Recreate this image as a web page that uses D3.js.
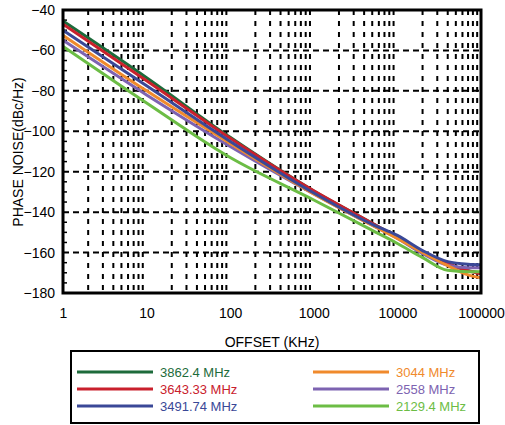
<!DOCTYPE html>
<html>
<head>
<meta charset="utf-8">
<script src="https://cdn.jsdelivr.net/npm/d3@7"></script>
<style>
  html, body { margin: 0; padding: 0; background: #fff; }
  svg { display: block; font-family: "Liberation Sans", Arial, sans-serif; }
</style>
</head>
<body>
<svg id="chart" width="505" height="425"></svg>
<script>
// offsets in kHz
const offsets = [1, 10, 100, 1000, 5000, 10000, 20000, 40000, 70000, 100000]
const names = ["3862.4 MHz", "3643.33 MHz", "3491.74 MHz", "3044 MHz", "2558 MHz", "2129.4 MHz"]
const colors = ["#1d6b3b", "#c9202c", "#3a4897", "#f08a2c", "#7d63b1", "#6cbd45"]
const s3862 = [-45.5, -73.5, -103, -129.5, -145.5, -152.5, -159.5, -165.5, -169, -170]
const s3643 = [-47, -75, -103.5, -129.5, -145.5, -152.5, -159.5, -165.5, -169, -170.5]
const s3491 = [-50, -77.5, -105, -130.5, -146, -151.5, -159, -164.5, -165.8, -166]
const s3044 = [-52.5, -80, -106, -131, -146.5, -153, -160, -166.5, -171, -172.5]
const s2558 = [-55, -82, -107.5, -131, -146.5, -153, -160.5, -166.3, -167.5, -167.5]
const s2129 = [-58, -86, -113, -134, -149, -155.5, -162.5, -168.8, -169.5, -169.5]
const seriesValues = [s3862, s3643, s3491, s3044, s2558, s2129]
const xTicks = [1, 10, 100, 1000, 10000, 100000]
const yTicks = [-180, -160, -140, -120, -100, -80, -60, -40]
const drawOrder = [0, 1, 4, 3, 2, 5]

const svg = d3.select("#chart")
const pLeft = 63, pRight = 481, pTop = 10, pBottom = 293

const x = d3.scaleLog().domain([1, 100000]).range([pLeft, pRight])
const y = d3.scaleLinear().domain([-180, -40]).range([pBottom, pTop])

// grid: vertical at every log minor, horizontal every 20
const vLines = []
for (let d = 1; d < 100000; d *= 10)
	for (let k = 2; k <= 9; k++) vLines.push(d * k)
svg.append("g").selectAll("line").data(vLines).join("line")
	.attr("x1", d => x(d)).attr("x2", d => x(d))
	.attr("y1", pTop).attr("y2", pBottom)
	.attr("stroke", "#000").attr("stroke-width", 2)
	.attr("stroke-dasharray", "5,6")
svg.append("g").selectAll("line").data(yTicks.slice(1, -1)).join("line")
	.attr("x1", pLeft).attr("x2", pRight)
	.attr("y1", d => y(d)).attr("y2", d => y(d))
	.attr("stroke", "#000").attr("stroke-width", 2)
	.attr("stroke-dasharray", "6,4")

// small inner ticks on the left every 5 dB
const minorY = d3.range(-175, -40, 5).filter(v => v % 20 !== 0)
svg.append("g").selectAll("line").data(minorY).join("line")
	.attr("x1", pLeft).attr("x2", pLeft + 4)
	.attr("y1", d => y(d)).attr("y2", d => y(d))
	.attr("stroke", "#000").attr("stroke-width", 1.5)

// curves
const line = d3.line()
	.x(d => x(d[0])).y(d => y(d[1]))
	.curve(d3.curveMonotoneX)
drawOrder.forEach(i => {
	svg.append("path")
		.datum(offsets.map((o, j) => [o, seriesValues[i][j]]))
		.attr("d", line)
		.attr("fill", "none")
		.attr("stroke", colors[i])
		.attr("stroke-width", 3)
})

// frame
svg.append("rect")
	.attr("x", pLeft).attr("y", pTop)
	.attr("width", pRight - pLeft).attr("height", pBottom - pTop)
	.attr("fill", "none").attr("stroke", "#000").attr("stroke-width", 3)

// axes labels
const xAxis = d3.axisBottom(x).tickValues(xTicks).tickFormat(d3.format("d")).tickSize(0).tickPadding(15)
svg.append("g").attr("transform", `translate(0,${pBottom})`).call(xAxis)
	.call(g => g.select(".domain").remove())
	.selectAll("text").attr("font-size", 14).attr("fill", "#000")
	.attr("font-family", "Liberation Sans, Arial, sans-serif")

const yAxis = d3.axisLeft(y).tickValues(yTicks).tickSize(0).tickPadding(8)
svg.append("g").attr("transform", `translate(${pLeft},0)`).call(yAxis)
	.call(g => g.select(".domain").remove())
	.selectAll("text").attr("font-size", 14).attr("fill", "#000")
	.attr("font-family", "Liberation Sans, Arial, sans-serif")

svg.append("text")
	.attr("x", 272).attr("y", 347)
	.attr("text-anchor", "middle").attr("font-size", 14)
	.text("OFFSET (KHz)")
svg.append("text")
	.attr("transform", "translate(23,152) rotate(-90)")
	.attr("text-anchor", "middle").attr("font-size", 14)
	.text("PHASE NOISE(dBc/Hz)")

// legend
svg.append("rect")
	.attr("x", 71).attr("y", 351).attr("width", 408).attr("height", 72)
	.attr("fill", "none").attr("stroke", "#000").attr("stroke-width", 2)
const legendRows = [372, 389, 406]
names.forEach((n, i) => {
	const col = i < 3 ? 0 : 1
	const ly = legendRows[i % 3]
	const lx = col === 0 ? 77 : 313
	svg.append("line")
		.attr("x1", lx).attr("x2", lx + 76)
		.attr("y1", ly).attr("y2", ly)
		.attr("stroke", colors[i]).attr("stroke-width", 3)
	svg.append("text")
		.attr("x", lx + 83).attr("y", ly + 4.5)
		.attr("font-size", 13).attr("fill", colors[i])
		.text(n)
})
</script>
</body>
</html>
